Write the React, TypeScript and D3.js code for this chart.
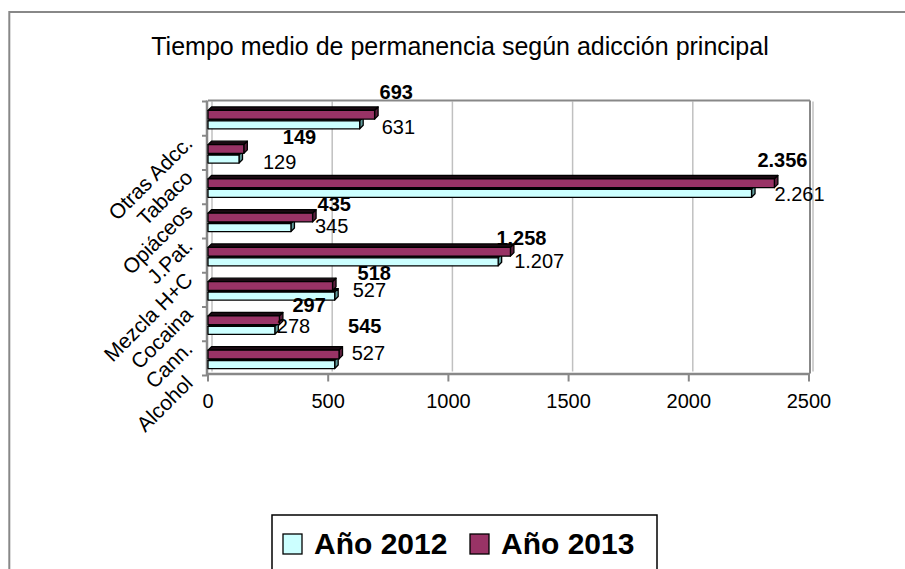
import React from "react";
import * as d3 from "d3";

const categories = ["Otras Adcc.", "Tabaco", "Opiáceos", "J.Pat.", "Mezcla H+C", "Cocaina", "Cann.", "Alcohol"];
const values2012 = [631, 129, 2261, 345, 1207, 527, 278, 527];
const values2013 = [693, 149, 2356, 435, 1258, 518, 297, 545];
const xTicks = [0, 500, 1000, 1500, 2000, 2500];
const seriesNames = ["Año 2012", "Año 2013"];
const title = "Tiempo medio de permanencia según adicción principal";

// label nudges (px) relative to default label anchor
const nudge2012: [number, number][] = [[22, 5], [24, 6], [23, 4], [24, 1], [16, 2], [18, -3], [2, -1], [17, -9]];
const nudge2013: [number, number][] = [[5, -11], [39, -1], [-17, -12], [5, -2], [-14, -2], [25, -2], [13, -4], [9, -17]];

const W = 905;
const H = 569;
const C2012 = "#CCFFFF";
const C2012side = "#5f9a9a";
const C2013 = "#993366";
const C2013side = "#5c1f3d";
const C2013top = "#1a0a12";
const FONT = "Liberation Sans, Arial, Helvetica, sans-serif";

const fmt = d3.formatLocale({ decimal: ",", thousands: ".", grouping: [3], currency: ["", "€"] }).format(",d");

export default function App() {
  const left = 208, right = 809, top = 101.5, bottom = 375.5;
  const depth = 3.5;
  const x = d3.scaleLinear().domain([0, 2500]).range([left, right]);
  const y = d3.scaleBand<string>().domain(categories).range([top, bottom]).padding(0);
  const bw = y.bandwidth();

  const bar = (v: number, y0: number, h: number, fill: string, side: string, topFill: string, key: string) => {
    const x0 = x(0);
    const x1 = x(v);
    const d = depth;
    return (
      <g key={key} stroke="#000" strokeWidth={1.3} strokeLinejoin="round">
        <polygon points={`${x0},${y0} ${x0 + d},${y0 - d} ${x1 + d},${y0 - d} ${x1},${y0}`} fill={topFill} />
        <polygon points={`${x1},${y0} ${x1 + d},${y0 - d} ${x1 + d},${y0 + h - d} ${x1},${y0 + h}`} fill={side} />
        <rect x={x0} y={y0} width={x1 - x0} height={h} fill={fill} />
      </g>
    );
  };

  return (
    <svg width={W} height={H} style={{ position: "absolute", left: 0, top: 0, background: "#fff" }} fontFamily={FONT}>
      <rect x={0} y={0} width={W} height={H} fill="#fff" />
      <rect x={9.3} y={12} width={W + 20} height={H + 20} fill="none" stroke="#888" strokeWidth={2} />
      <text x={460} y={55} fontSize={25} textAnchor="middle" fill="#000">{title}</text>

      {/* gridlines on back wall */}
      {xTicks.map((t) => (
        <line key={"g" + t} x1={x(t) + 4} x2={x(t) + 4} y1={top} y2={bottom - 4} stroke="#c0c0c0" strokeWidth={1.5} />
      ))}
      {/* walls frame */}
      <line x1={left} x2={right + 1} y1={top - 1} y2={top - 1} stroke="#888" strokeWidth={2} />
      <line x1={right + 1} x2={right + 1} y1={top - 1} y2={bottom - 2} stroke="#888" strokeWidth={2} />
      <line x1={left - 1} x2={left - 1} y1={top - 1} y2={bottom} stroke="#888" strokeWidth={2.5} />
      <line x1={left - 1} x2={right + 1} y1={bottom - 1.5} y2={bottom - 1.5} stroke="#888" strokeWidth={2.5} />

      {/* category ticks */}
      {d3.range(categories.length + 1).map((i) => (
        <line key={"ct" + i} x1={left - 6} x2={left - 1} y1={top + i * bw} y2={top + i * bw} stroke="#888" strokeWidth={2} />
      ))}
      {/* x ticks */}
      {xTicks.map((t) => (
        <g key={"xt" + t}>
          <line x1={x(t)} x2={x(t)} y1={bottom - 1} y2={bottom + 6} stroke="#888" strokeWidth={2} />
          <text x={x(t)} y={408} fontSize={20} textAnchor="middle" fill="#000">{t}</text>
        </g>
      ))}

      {/* category labels */}
      {categories.map((c) => {
        const cy = (y(c) as number) + bw / 2 + 26;
        return (
          <text key={"cl" + c} transform={`translate(194,${cy}) rotate(-45)`} fontSize={21} textAnchor="end" fill="#000">{c}</text>
        );
      })}

      {/* bars */}
      {categories.map((c, i) => {
        const b0 = y(c) as number;
        const pY = b0 + bw * 0.262;
        const pH = bw * 0.253;
        const cY = b0 + bw * 0.565;
        const cH = bw * 0.232;
        return (
          <g key={"b" + c}>
            {bar(values2012[i], cY, cH, C2012, C2012side, "#000", "c")}
            {bar(values2013[i], pY, pH, C2013, C2013side, C2013top, "p")}
          </g>
        );
      })}

      {/* value labels */}
      {categories.map((c, i) => {
        const b0 = y(c) as number;
        const pY = b0 + bw * 0.262;
        const cBot = b0 + bw * 0.565 + bw * 0.232;
        return (
          <g key={"vl" + c} fontSize={20} fill="#000">
            <text x={x(values2013[i]) + nudge2013[i][0]} y={pY + nudge2013[i][1]} fontWeight="bold">{fmt(values2013[i])}</text>
            <text x={x(values2012[i]) + nudge2012[i][0]} y={cBot + nudge2012[i][1]}>{fmt(values2012[i])}</text>
          </g>
        );
      })}

      {/* legend */}
      <rect x={272} y={515} width={385} height={80} fill="#fff" stroke="#000" strokeWidth={1.5} />
      {seriesNames.map((s, i) => {
        const lx = i === 0 ? 283 : 470;
        return (
          <g key={"lg" + s}>
            <rect x={lx} y={534} width={19} height={20} fill={i === 0 ? C2012 : C2013} stroke="#000" strokeWidth={1.3} />
            <text x={lx + 31} y={554} fontSize={30} fontWeight="bold" fill="#000">{s}</text>
          </g>
        );
      })}
    </svg>
  );
}
